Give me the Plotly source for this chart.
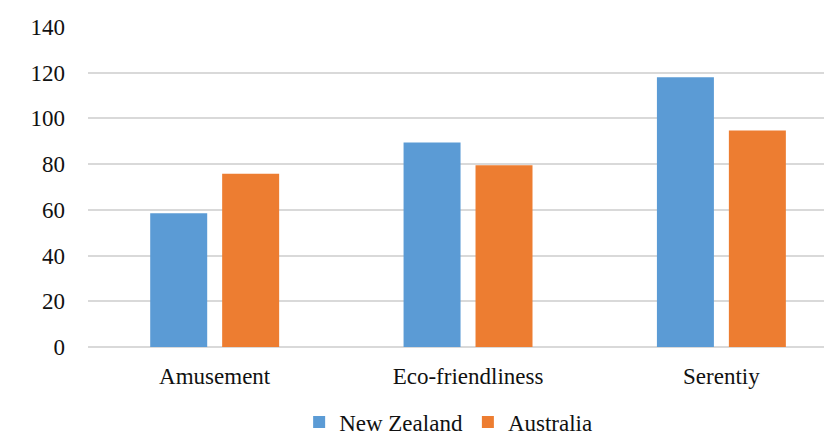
import plotly.graph_objects as go

categories = ["Amusement", "Eco-friendliness", "Serentiy"]
new_zealand = [58.5, 89.5, 118]
australia = [75.8, 79.5, 94.7]
y_ticks = [0, 20, 40, 60, 80, 100, 120, 140]

serif = "Liberation Serif"

fig = go.Figure()
fig.add_trace(go.Bar(name="New Zealand", x=categories, y=new_zealand,
                     marker=dict(color="#5b9bd5", line=dict(width=0))))
fig.add_trace(go.Bar(name="Australia", x=categories, y=australia,
                     marker=dict(color="#ed7d31", line=dict(width=0))))

fig.update_layout(
    width=824, height=436,
    margin=dict(l=88, r=0, t=27, b=89, autoexpand=False),
    paper_bgcolor="white", plot_bgcolor="white",
    barmode="group", bargap=0.432, bargroupgap=0.208,
    font=dict(family=serif, size=23, color="#111111"),
    showlegend=True,
    legend=dict(orientation="h", x=0.49, xanchor="center",
                yref="container", y=0.032, yanchor="middle",
                font=dict(family=serif, size=23, color="#111111"),
                itemwidth=30, tracegroupgap=0),
)
fig.update_xaxes(range=[-0.5, 2.405], showgrid=False, showline=False, ticks="",
                 automargin=False, ticklabelstandoff=13,
                 tickfont=dict(family=serif, size=23))
fig.update_yaxes(range=[0, 140], tickvals=y_ticks, showgrid=True, gridcolor="#d9d9d9",
                 gridwidth=1.5, zeroline=True, zerolinecolor="#d9d9d9", zerolinewidth=1.5,
                 showline=False, ticks="", ticklabelstandoff=22, automargin=False,
                 tickfont=dict(family=serif, size=23))

fig.write_html("out.html")
